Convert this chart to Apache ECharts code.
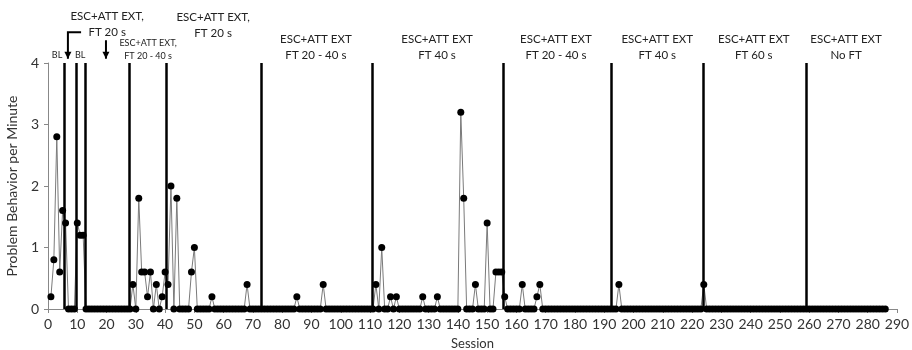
<!DOCTYPE html>
<html>
<head>
<meta charset="utf-8">
<script src="https://cdn.jsdelivr.net/npm/echarts@6/dist/echarts.min.js"></script>
<style>
  html, body { margin: 0; padding: 0; background: #fff; }
  #chart { width: 912px; height: 350px; }
</style>
</head>
<body>
<div id="chart"></div>
<script>
// problem behavior per minute, sessions 1..286
var rates = [
  0.2, 0.8, 2.8, 0.6, 1.6, 1.4, 0, 0, 0, 1.4,
  1.2, 1.2, 0, 0, 0, 0, 0, 0, 0, 0,
  0, 0, 0, 0, 0, 0, 0, 0, 0.4, 0,
  1.8, 0.6, 0.6, 0.2, 0.6, 0, 0.4, 0, 0.2, 0.6,
  0.4, 2.0, 0, 1.8, 0, 0, 0, 0, 0.6, 1.0,
  0, 0, 0, 0, 0, 0.2, 0, 0, 0, 0,
  0, 0, 0, 0, 0, 0, 0, 0.4, 0, 0,
  0, 0, 0, 0, 0, 0, 0, 0, 0, 0,
  0, 0, 0, 0, 0.2, 0, 0, 0, 0, 0,
  0, 0, 0, 0.4, 0, 0, 0, 0, 0, 0,
  0, 0, 0, 0, 0, 0, 0, 0, 0, 0,
  0, 0.4, 0, 1.0, 0, 0, 0.2, 0, 0.2, 0,
  0, 0, 0, 0, 0, 0, 0, 0.2, 0, 0,
  0, 0, 0.2, 0, 0, 0, 0, 0, 0, 0,
  3.2, 1.8, 0, 0, 0, 0.4, 0, 0, 0, 1.4,
  0, 0, 0.6, 0.6, 0.6, 0.2, 0, 0, 0, 0,
  0, 0.4, 0, 0, 0, 0, 0.2, 0.4, 0, 0,
  0, 0, 0, 0, 0, 0, 0, 0, 0, 0,
  0, 0, 0, 0, 0, 0, 0, 0, 0, 0,
  0, 0, 0, 0, 0.4, 0, 0, 0, 0, 0,
  0, 0, 0, 0, 0, 0, 0, 0, 0, 0,
  0, 0, 0, 0, 0, 0, 0, 0, 0, 0,
  0, 0, 0, 0.4, 0, 0, 0, 0, 0, 0,
  0, 0, 0, 0, 0, 0, 0, 0, 0, 0,
  0, 0, 0, 0, 0, 0, 0, 0, 0, 0,
  0, 0, 0, 0, 0, 0, 0, 0, 0, 0,
  0, 0, 0, 0, 0, 0, 0, 0, 0, 0,
  0, 0, 0, 0, 0, 0, 0, 0, 0, 0,
  0, 0, 0, 0, 0, 0
];

// phase change lines (session position)
var phaseLines = [5.5, 9.5, 12.6, 27.6, 40.5, 72.7, 110.7, 155.4, 192.5, 223.7, 258.9];

// phase labels: text, session centre, y (data units), font size
var labelText = [
  'BL', 'BL',
  'ESC+ATT EXT,\nFT 20 s',
  'ESC+ATT EXT,\nFT 20 - 40 s',
  'ESC+ATT EXT,\nFT 20 s',
  'ESC+ATT EXT\nFT 20 - 40 s',
  'ESC+ATT EXT\nFT 40 s',
  'ESC+ATT EXT\nFT 20 - 40 s',
  'ESC+ATT EXT\nFT 40 s',
  'ESC+ATT EXT\nFT 60 s',
  'ESC+ATT EXT\nNo FT'
];
var labelX = [3.1, 11, 20.2, 34.2, 56.4, 91.5, 132.9, 173.5, 208.1, 241.1, 272.6];
var labelY = [4.13, 4.13, 4.63, 4.22, 4.62, 4.25, 4.25, 4.25, 4.25, 4.25, 4.25];
var labelSize = [9, 9, 11.5, 9, 11.5, 11.5, 11.5, 11.5, 11.5, 11.5, 11.5];

// arrows: bracket arrow and straight arrow (session, y)
var bracketPath = [[11.3, 4.5], [6.8, 4.5], [6.8, 4.07]];
var arrowPath = [[19.8, 4.37], [19.8, 4.07]];

var font = 'Lato, "Liberation Sans", sans-serif';
var chart = echarts.init(document.getElementById('chart'));

var points = rates.map(function (v, i) { return [i + 1, v]; });

var option = {
  animation: false,
  grid: { left: 48, right: 15, top: 63, bottom: 41, containLabel: false, outerBoundsMode: 'none' },
  xAxis: {
    type: 'value',
    min: 0, max: 290, interval: 10,
    name: 'Session',
    nameLocation: 'middle',
    nameGap: 28,
    nameTextStyle: { fontFamily: font, fontSize: 13, color: '#333' },
    axisLine: { lineStyle: { color: '#888', width: 1 } },
    axisTick: { length: 4, lineStyle: { color: '#888' } },
    axisLabel: { fontFamily: font, fontSize: 14, color: '#333', margin: 8 },
    splitLine: { show: false }
  },
  yAxis: {
    type: 'value',
    min: 0, max: 4, interval: 1,
    name: 'Problem Behavior per Minute',
    nameLocation: 'middle',
    nameRotate: 90,
    nameGap: 27,
    nameTextStyle: { fontFamily: font, fontSize: 14, color: '#333' },
    axisLine: { show: true, lineStyle: { color: '#888', width: 1 } },
    axisTick: { show: true, length: 4, lineStyle: { color: '#888' } },
    axisLabel: { fontFamily: font, fontSize: 14, color: '#333', margin: 9 },
    splitLine: { show: false }
  },
  series: [{
    type: 'line',
    data: points,
    symbol: 'circle',
    symbolSize: 7,
    lineStyle: { color: '#7a7a7a', width: 1 },
    itemStyle: { color: '#000' },
    clip: false,
    markLine: {
      silent: true,
      symbol: ['none', 'none'],
      label: { show: false },
      lineStyle: { color: '#000', width: 2.5, type: 'solid' },
      data: phaseLines.map(function (v) { return { xAxis: v }; })
    }
  }]
};
chart.setOption(option);

// annotations placed through the chart's own coordinate system
function px(p) { return chart.convertToPixel({ gridIndex: 0 }, p); }
var graphics = [];
labelText.forEach(function (t, i) {
  var p = px([labelX[i], labelY[i]]);
  graphics.push({
    type: 'text', x: p[0], y: p[1],
    style: {
      text: t, fill: '#222',
      fontFamily: font, fontSize: labelSize[i],
      lineHeight: labelSize[i] === 9 ? 13 : 16,
      align: 'center', verticalAlign: 'middle'
    }
  });
});
function arrow(path) {
  var pts = path.map(px);
  graphics.push({ type: 'polyline', shape: { points: pts }, style: { stroke: '#000', lineWidth: 2, fill: null } });
  var tip = pts[pts.length - 1];
  graphics.push({
    type: 'polygon',
    shape: { points: [[tip[0] - 3.5, tip[1] - 7], [tip[0] + 3.5, tip[1] - 7], [tip[0], tip[1]]] },
    style: { fill: '#000' }
  });
}
arrow(bracketPath);
arrow(arrowPath);
chart.setOption({ graphic: graphics });
</script>
</body>
</html>
